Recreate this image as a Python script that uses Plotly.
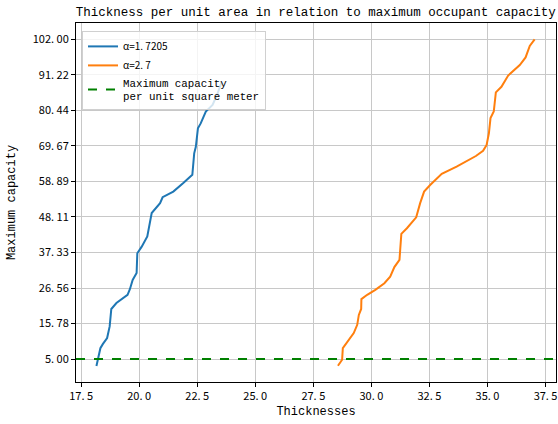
import numpy as np
import plotly.graph_objects as go

# ---- data ----
blue_x = [18.16, 18.30, 18.33, 18.44, 18.62, 18.73, 18.80, 19.02, 19.31, 19.50, 19.60, 19.72,
          19.89, 19.92, 20.11, 20.35, 20.54, 20.90, 21.01, 21.47, 21.90, 22.29, 22.37, 22.44,
          22.53, 22.65, 22.87, 23.16, 23.35, 23.46, 23.55]
blue_y = [2.9, 6.8, 8.3, 9.6, 11.4, 14.9, 20.2, 22.0, 23.5, 24.5, 26.2, 29.0,
          31.1, 37.1, 39.1, 42.2, 49.3, 52.3, 54.1, 55.8, 58.4, 60.9, 67.4, 69.4,
          75.0, 76.5, 80.1, 82.1, 85.1, 87.6, 89.0]

orange_x = [28.56, 28.74, 28.77, 29.03, 29.24, 29.39, 29.46, 29.56, 29.57, 29.82, 30.17, 30.56,
            30.81, 30.99, 31.21, 31.24, 31.29, 31.53, 31.93, 32.10, 32.27, 32.53, 33.03, 33.67,
            34.50, 34.81, 34.96, 35.06, 35.13, 35.27, 35.36, 35.60, 35.89, 36.39, 36.64, 36.82, 37.03]
orange_y = [2.97, 4.8, 8.3, 10.9, 12.9, 15.4, 18.4, 20.2, 23.2, 24.5, 26.0, 28.0,
            30.0, 32.9, 35.1, 38.1, 43.0, 44.7, 48.0, 52.3, 55.8, 57.8, 61.2, 63.4,
            66.6, 68.2, 69.9, 73.5, 78.1, 80.1, 85.9, 87.6, 91.0, 94.2, 96.5, 100.0, 102.0]

capacity_level = 5.0
y_tick_vals = [5.00, 15.78, 26.56, 37.33, 48.11, 58.89, 69.67, 80.44, 91.22, 102.00]
y_tick_text = ["5. 00", "15. 78", "26. 56", "37. 33", "48. 11", "58. 89", "69. 67", "80. 44", "91. 22", "102. 00"]
x_tick_vals = [17.5, 20.0, 22.5, 25.0, 27.5, 30.0, 32.5, 35.0, 37.5]
x_tick_text = ["17. 5", "20. 0", "22. 5", "25. 0", "27. 5", "30. 0", "32. 5", "35. 0", "37. 5"]

x_range = [17.28, 37.95]
y_range = [-1.95, 106.95]

SANS = "Noto Sans CJK SC"
MONO = "Liberation Mono"

fig = go.Figure()
fig.add_trace(go.Scatter(x=blue_x, y=blue_y, mode="lines", name="α=1. 7205",
                         line=dict(color="#1f77b4", width=2)))
fig.add_trace(go.Scatter(x=orange_x, y=orange_y, mode="lines", name="α=2. 7",
                         line=dict(color="#ff7f0e", width=2)))
fig.add_trace(go.Scatter(x=x_range, y=[capacity_level, capacity_level], mode="lines",
                         name='<span style="font-family:Liberation Mono;font-size:10.8px">Maximum capacity<br>per unit square meter</span>',
                         line=dict(color="#008000", width=2, dash="dash")))

fig.update_layout(
    width=558, height=424,
    margin=dict(l=76, r=2, t=23, b=42),
    paper_bgcolor="white", plot_bgcolor="white",
    font=dict(family=SANS, size=11, color="black"),
    title=dict(text="Thickness per unit area in relation to maximum occupant capacity",
               font=dict(family=MONO, size=12.5, color="black"),
               x=0.566, xanchor="center", y=1 - 12 / 424, yanchor="middle", yref="container"),
    showlegend=True,
    legend=dict(x=0.0125, y=0.978, xanchor="left", yanchor="top",
                bgcolor="rgba(255,255,255,0.8)", bordercolor="#d0d0d0", borderwidth=1,
                font=dict(family=SANS, size=10), tracegroupgap=0, itemwidth=30,
                entrywidth=160, entrywidthmode="pixels"),
)
fig.update_xaxes(range=x_range, tickvals=x_tick_vals, ticktext=x_tick_text,
                 showgrid=True, gridcolor="#c8c8c8", gridwidth=1,
                 showline=True, linecolor="black", linewidth=1, mirror=True,
                 ticks="outside", ticklen=4, tickcolor="black", zeroline=False,
                 title=dict(text="Thicknesses", font=dict(family=MONO, size=12), standoff=4))
fig.update_yaxes(range=y_range, tickvals=y_tick_vals, ticktext=y_tick_text,
                 showgrid=True, gridcolor="#c8c8c8", gridwidth=1,
                 showline=True, linecolor="black", linewidth=1, mirror=True,
                 ticks="outside", ticklen=4, tickcolor="black", zeroline=False,
                 title=dict(text="Maximum capacity", font=dict(family=MONO, size=12), standoff=14))

fig.write_html("out.html")
